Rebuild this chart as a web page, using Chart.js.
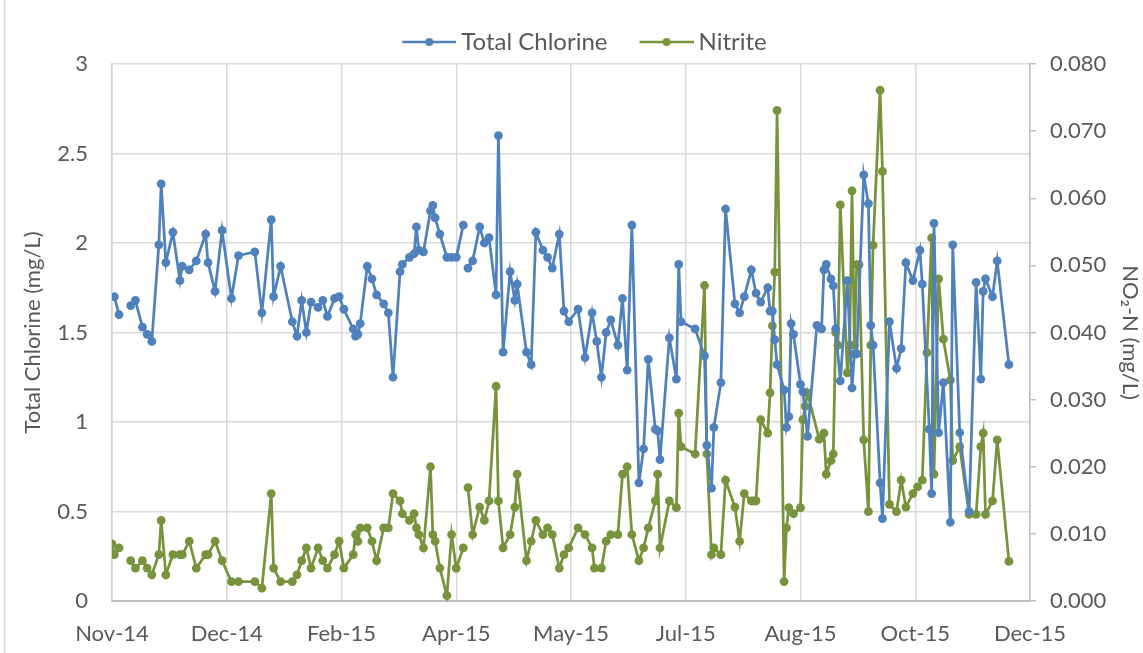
<!DOCTYPE html>
<html>
<head>
<meta charset="utf-8">
<title>Total Chlorine and Nitrite</title>
<script src="https://cdn.jsdelivr.net/npm/chart.js@4.4.1/dist/chart.umd.min.js"></script>
<style>
  html, body { margin: 0; padding: 0; background: #ffffff; }
  #wrap { width: 1143px; height: 653px; }
</style>
</head>
<body>
<div id="wrap"><canvas id="canvas" width="1143" height="653"></canvas></div>
<script>
// x positions are days counted from the first axis tick (Nov-14), one tick every 49 days
var tickLabels = ['Nov-14', 'Dec-14', 'Feb-15', 'Apr-15', 'May-15', 'Jul-15', 'Aug-15', 'Oct-15', 'Dec-15'];
var daysPerTick = 49;

// Total Chlorine (mg/L), null = no sample (gap in line)
var chlorineDays = [
  1, 3, 6, 8, 10, 13, 15, 17, 20, 21,
  23, 26, 29, 30, 33, 36, 40, 41, 44, 47,
  51, 54, 61, 64, 68, 69, 72, 77, 79, 81,
  83, 85, 88, 90, 92, 95, 97, 99, 103, 104,
  105, 106, 109, 111, 113, 116, 118, 120, 123, 124,
  127, 129, 130, 131, 133, 136, 137, 138, 140, 143,
  145, 147, 150, 151, 152, 154, 157, 159, 161, 164,
  165, 167, 170, 172, 173, 177, 179, 181, 184, 186,
  188, 191, 193, 195, 199, 202, 205, 207, 209, 211,
  213, 216, 218, 220, 222, 225, 227, 229, 232, 233,
  234, 238, 241, 242, 243, 249, 253, 254, 256, 257,
  260, 262, 266, 268, 270, 273, 275, 277, 280, 281,
  282, 283, 284, 287, 288, 289, 290, 291, 294, 295,
  297, 301, 303, 304, 305, 307, 308, 309, 311, 314,
  316, 317, 318, 321, 323, 324, 325, 328, 329, 332,
  335, 337, 339, 342, 345, 346, 349, 350, 351, 353,
  355, 358, 359, 362, 366, 369, 371, 372, 373, 376,
  378, 383
];
var chlorine = [
  1.70, 1.60, null, 1.65, 1.68, 1.53, 1.49, 1.45, 1.99, 2.33,
  1.89, 2.06, 1.79, 1.87, 1.85, 1.90, 2.05, 1.89, 1.73, 2.07,
  1.69, 1.93, 1.95, 1.61, 2.13, 1.70, 1.87, 1.56, 1.48, 1.68,
  1.50, 1.67, 1.64, 1.68, 1.59, 1.69, 1.70, 1.63, 1.52, 1.48,
  1.49, 1.55, 1.87, 1.80, 1.71, 1.66, 1.61, 1.25, 1.84, 1.88,
  1.92, 1.94, 2.09, 1.96, 1.95, 2.18, 2.21, 2.14, 2.05, 1.92,
  1.92, 1.92, 2.10, null, 1.86, 1.90, 2.09, 2.00, 2.03, 1.71,
  2.60, 1.39, 1.84, 1.68, 1.77, 1.39, 1.32, 2.06, 1.96, 1.92,
  1.86, 2.05, 1.62, 1.56, 1.63, 1.36, 1.61, 1.45, 1.25, 1.50,
  1.57, 1.43, 1.69, 1.29, 2.10, 0.66, 0.85, 1.35, 0.96, 0.95,
  0.79, 1.47, 1.24, 1.88, 1.56, 1.52, 1.37, 0.87, 0.63, 0.97,
  1.22, 2.19, 1.66, 1.61, 1.70, 1.85, 1.72, 1.67, 1.75, 1.62,
  1.62, 1.46, 1.32, 1.18, 0.97, 1.03, 1.55, 1.49, 1.21, 1.17,
  0.92, 1.54, 1.52, 1.85, 1.88, 1.80, 1.76, 1.52, 1.23, 1.79,
  1.19, 1.38, 1.38, 2.38, 2.22, 1.54, 1.43, 0.66, 0.46, 1.56,
  1.30, 1.41, 1.89, 1.79, 1.96, 1.77, 0.96, 0.60, 2.11, 0.94,
  1.22, 0.44, 1.99, 0.94, 0.50, 1.78, 1.24, 1.73, 1.80, 1.70,
  1.90, 1.32
];

// Nitrite as NO2-N (mg/L)
var nitriteDays = [
  0, 1, 3, 6, 8, 10, 13, 15, 17, 20,
  21, 23, 26, 29, 30, 33, 36, 40, 41, 44,
  47, 51, 54, 61, 64, 68, 69, 72, 77, 79,
  81, 83, 85, 88, 90, 92, 95, 97, 99, 103,
  104, 105, 106, 109, 111, 113, 116, 118, 120, 123,
  124, 127, 129, 130, 131, 133, 136, 137, 138, 140,
  143, 145, 147, 150, 151, 152, 154, 157, 159, 161,
  164, 165, 167, 170, 172, 173, 177, 179, 181, 184,
  186, 188, 191, 193, 195, 199, 202, 205, 206, 209,
  211, 213, 216, 218, 220, 222, 225, 227, 229, 232,
  233, 234, 238, 241, 242, 243, 249, 253, 254, 256,
  257, 260, 262, 266, 268, 270, 273, 274, 275, 277,
  280, 281, 282, 283, 284, 287, 288, 289, 291, 294,
  295, 296, 297, 302, 304, 305, 307, 308, 309, 310,
  311, 314, 315, 316, 317, 318, 319, 321, 323, 324,
  325, 328, 329, 332, 335, 337, 339, 342, 344, 346,
  348, 350, 351, 353, 355, 358, 359, 362, 366, 369,
  371, 372, 373, 376, 378, 383
];
var nitrite = [
  0.0085, 0.0069, 0.0079, null, 0.0060, 0.0049, 0.0060, 0.0049, 0.0039, 0.0069,
  0.0120, 0.0039, 0.0069, 0.0069, 0.0069, 0.0089, 0.0049, 0.0069, 0.0069, 0.0089,
  0.0060, 0.0029, 0.0029, 0.0029, 0.0019, 0.0160, 0.0049, 0.0029, 0.0029, 0.0039,
  0.0060, 0.0079, 0.0049, 0.0079, 0.0060, 0.0049, 0.0069, 0.0089, 0.0049, 0.0069,
  0.0099, 0.0089, 0.0109, 0.0109, 0.0089, 0.0060, 0.0109, 0.0109, 0.0160, 0.0149,
  0.0130, 0.0120, 0.0130, 0.0109, 0.0099, 0.0079, 0.0200, 0.0099, 0.0089, 0.0049,
  0.0008, 0.0099, 0.0049, 0.0079, null, 0.0169, 0.0099, 0.0140, 0.0120, 0.0149,
  0.0320, 0.0149, 0.0079, 0.0099, 0.0140, 0.0189, 0.0060, 0.0089, 0.0120, 0.0099,
  0.0109, 0.0099, 0.0049, 0.0069, 0.0079, 0.0109, 0.0099, 0.0079, 0.0049, 0.0049,
  0.0089, 0.0099, 0.0099, 0.0189, 0.0200, 0.0099, 0.0060, 0.0079, 0.0109, 0.0149,
  0.0189, 0.0079, 0.0149, 0.0139, 0.0280, 0.0230, 0.0219, 0.0470, 0.0219, 0.0069,
  0.0079, 0.0069, 0.0180, 0.0140, 0.0089, 0.0160, 0.0149, 0.0149, 0.0149, 0.0270,
  0.0250, 0.0310, 0.0410, 0.0490, 0.0731, 0.0029, 0.0109, 0.0139, 0.0130, 0.0139,
  0.0270, 0.0290, 0.0310, 0.0241, 0.0250, 0.0189, 0.0209, 0.0219, 0.0400, 0.0381,
  0.0590, 0.0340, 0.0381, 0.0611, 0.0381, 0.0501, 0.0501, 0.0240, 0.0133, 0.0381,
  0.0530, 0.0761, 0.0640, 0.0144, 0.0133, 0.0180, 0.0140, 0.0160, 0.0170, 0.0180,
  0.0370, 0.0541, 0.0189, 0.0480, 0.0390, 0.0329, 0.0209, 0.0230, 0.0129, 0.0129,
  0.0230, 0.0250, 0.0129, 0.0149, 0.0240, 0.0059
];

var blue = '#4f81bd';
var green = '#77933c';
var textColor = '#595959';
var fontFamily = 'Lato, "Open Sans", sans-serif';

function toPoints(days, values) {
    return days.map(function(d, i) {
        return { x: d, y: values[i] };
    });
}

// "line with a dot" marker for the legend; the canvas is wider than the
// legend box so the line sits close to its text like in the spreadsheet legend
function legendMarker(color) {
    var c = document.createElement('canvas');
    c.width = 87;
    c.height = 10;
    var g = c.getContext('2d');
    g.strokeStyle = color;
    g.lineWidth = 2.5;
    g.beginPath();
    g.moveTo(33, 5);
    g.lineTo(87, 5);
    g.stroke();
    g.fillStyle = color;
    g.beginPath();
    g.arc(60, 5, 4, 0, Math.PI * 2);
    g.fill();
    return c;
}

var frameLine = {
    id: 'frameLine',
    afterDraw: function(chart) {
        var ctx = chart.ctx;
        ctx.save();
        ctx.strokeStyle = '#d9d9d9';
        ctx.lineWidth = 1.5;
        ctx.beginPath();
        ctx.moveTo(4.5, 0);
        ctx.lineTo(4.5, chart.height);
        ctx.stroke();
        ctx.restore();
    }
};

var ctx = document.getElementById('canvas').getContext('2d');
var myChart = new Chart(ctx, {
    type: 'line',
    data: {
        datasets: [{
            label: 'Total Chlorine',
            data: toPoints(chlorineDays, chlorine),
            yAxisID: 'y',
            borderColor: blue,
            backgroundColor: blue,
            borderWidth: 2.75,
            pointRadius: 4.4,
            pointBorderWidth: 0,
            pointBackgroundColor: blue,
            spanGaps: false,
            tension: 0
        },
        {
            label: 'Nitrite',
            data: toPoints(nitriteDays, nitrite),
            yAxisID: 'y1',
            borderColor: green,
            backgroundColor: green,
            borderWidth: 2.75,
            pointRadius: 4.4,
            pointBorderWidth: 0,
            pointBackgroundColor: green,
            spanGaps: false,
            tension: 0
        }]
    },
    options: {
        responsive: false,
        animation: false,
        layout: {
            padding: { top: 24, left: 0, right: 0, bottom: 0 }
        },
        plugins: {
            tooltip: { enabled: false },
            legend: {
                position: 'top',
                labels: {
                    color: textColor,
                    font: { family: fontFamily, size: 24 },
                    usePointStyle: true,
                    pointStyleWidth: 73,
                    padding: 6,
                    generateLabels: function(chart) {
                        return chart.data.datasets.map(function(ds, i) {
                            return {
                                text: ds.label,
                                fontColor: textColor,
                                pointStyle: legendMarker(ds.borderColor),
                                lineWidth: 0,
                                strokeStyle: ds.borderColor,
                                fillStyle: ds.borderColor,
                                datasetIndex: i
                            };
                        });
                    }
                }
            }
        },
        scales: {
            x: {
                type: 'linear',
                min: 0,
                max: daysPerTick * (tickLabels.length - 1),
                afterFit: function(scale) { scale.height = 52; },
                ticks: {
                    stepSize: daysPerTick,
                    color: textColor,
                    padding: 20,
                    maxRotation: 0,
                    font: { family: fontFamily, size: 22 },
                    callback: function(value) {
                        return tickLabels[Math.round(value / daysPerTick)];
                    }
                },
                grid: { color: '#d9d9d9', lineWidth: 1.5, drawTicks: false },
                border: { color: '#bfbfbf', width: 2 }
            },
            y: {
                position: 'left',
                min: 0,
                max: 3,
                afterFit: function(scale) { scale.width = 112; },
                ticks: {
                    stepSize: 0.5,
                    color: textColor,
                    padding: 24,
                    font: { family: fontFamily, size: 22 },
                    callback: function(value) { return String(Math.round(value * 10) / 10); }
                },
                grid: { color: '#d9d9d9', lineWidth: 1.5, drawTicks: false },
                border: { color: '#d0d0d0', width: 1.5 },
                title: {
                    display: true,
                    text: 'Total Chlorine (mg/L)',
                    color: textColor,
                    font: { family: fontFamily, size: 22 },
                    padding: { top: 20, bottom: 0 }
                }
            },
            y1: {
                position: 'right',
                min: 0,
                max: 0.08,
                afterFit: function(scale) { scale.width = 1143 - 1030; },
                ticks: {
                    stepSize: 0.01,
                    color: textColor,
                    padding: 14,
                    font: { family: fontFamily, size: 22 },
                    callback: function(value) { return value.toFixed(3); }
                },
                grid: { drawOnChartArea: false, color: '#bfbfbf', tickLength: 6, lineWidth: 1.5 },
                border: { color: '#bfbfbf', width: 1.5 },
                title: {
                    display: true,
                    text: 'NO\u2082-N (mg/L)',
                    color: textColor,
                    font: { family: fontFamily, size: 22 },
                    padding: 0
                }
            }
        }
    },
    plugins: [frameLine]
});
</script>
</body>
</html>
